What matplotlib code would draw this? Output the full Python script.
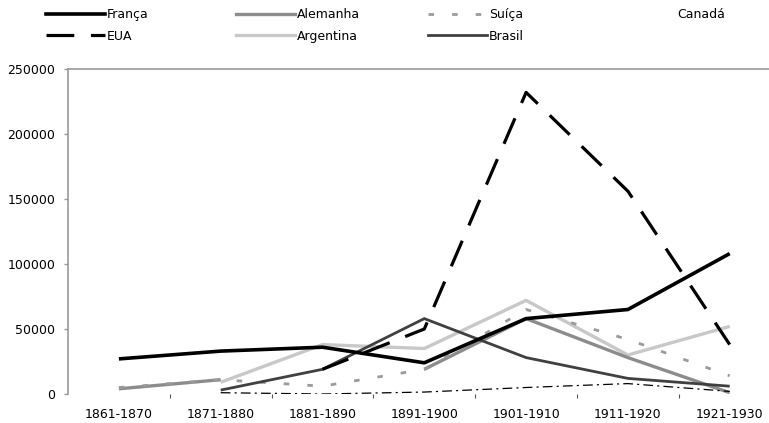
import numpy as np
import matplotlib
matplotlib.use("Agg")
import matplotlib.pyplot as plt
from matplotlib.lines import Line2D

nan = np.nan

# decades on the x axis
decades = ['1861-1870', '1871-1880', '1881-1890', '1891-1900',
           '1901-1910', '1911-1920', '1921-1930']

# emigrants per decade
franca = [27000, 33000, 36000, 24000, 58000, 65000, 108000]
eua = [nan, nan, 19000, 50000, 232000, 156000, 38000]
alemanha = [4000, 11000, nan, 19000, 58000, 28000, 1000]
argentina = [nan, 9000, 38000, 35000, 72000, 30000, 52000]
suica = [5000, 11000, 6000, 19000, 65000, 42000, 14000]
brasil = [nan, 3000, 19000, 58000, 28000, 12000, 6000]
canada = [nan, 1000, 0, 1500, 5000, 8000, 2000]

plt.rcParams['font.family'] = ['DejaVu Sans']
plt.rcParams['lines.scale_dashes'] = False

W, H = 769, 423
fig = plt.figure(figsize=(W / 100, H / 100), dpi=100)
ax = fig.add_axes([68 / W, 29 / H, (W - 68) / W, 325 / H])

x = np.arange(len(decades))

styles = {
    'França': dict(color='black', lw=2.6, ls='-'),
    'EUA': dict(color='black', lw=2.3, dashes=(20, 12)),
    'Alemanha': dict(color='#8c8c8c', lw=2.4, ls='-'),
    'Argentina': dict(color='#c8c8c8', lw=2.4, ls='-'),
    'Suíça': dict(color='#9a9a9a', lw=2.0, dashes=(4, 13)),
    'Brasil': dict(color='#404040', lw=2.0, ls='-'),
    'Canadá': dict(color='black', lw=0.9, dashes=(7, 3, 1.5, 3)),
}
series = [('França', franca), ('EUA', eua), ('Alemanha', alemanha),
          ('Argentina', argentina), ('Suíça', suica), ('Brasil', brasil),
          ('Canadá', canada)]

# draw the lighter lines first, like the original stacking
order = ['Argentina', 'Alemanha', 'Suíça', 'Canadá', 'Brasil', 'EUA', 'França']
data = dict(series)
for name in order:
    ax.plot(x, data[name], solid_capstyle='butt', **styles[name])

ax.set_xlim(-0.5, 6.386)
ax.set_ylim(0, 250000)
ax.set_yticks(np.arange(0, 250001, 50000))
ax.set_yticklabels([str(v) for v in range(0, 250001, 50000)], fontsize=9)
ax.set_xticks(x)
ax.set_xticklabels(decades, fontsize=9)
ax.set_xticks(x[:-1] + 0.5, minor=True)
ax.tick_params(axis='x', which='major', length=0, pad=10)
ax.tick_params(axis='x', which='minor', length=3, color='#555555', width=0.8)
ax.tick_params(axis='y', length=3, color='#999999', width=1, pad=6)

for side in ['right', 'bottom']:
    ax.spines[side].set_visible(False)
for side in ['left', 'top']:
    ax.spines[side].set_color('#999999')
    ax.spines[side].set_linewidth(1.2)

# legend: four columns placed like the original
columns = [(46, ['França', 'EUA']), (236, ['Alemanha', 'Argentina']),
           (428, ['Suíça', 'Brasil']), (616, ['Canadá'])]
for xpos, names in columns:
    handles = []
    for name in names:
        st = dict(styles[name])
        if name == 'Canadá':
            st['color'] = 'none'
        handles.append(Line2D([], [], **st))
    fig.legend(handles, names, loc='upper left',
               bbox_to_anchor=(xpos / W, 1 - 8 / H), frameon=False,
               fontsize=9, handlelength=4.7, handletextpad=0.2,
               borderpad=0, borderaxespad=0, labelspacing=0.7)

fig.savefig('out.png', dpi=100)
